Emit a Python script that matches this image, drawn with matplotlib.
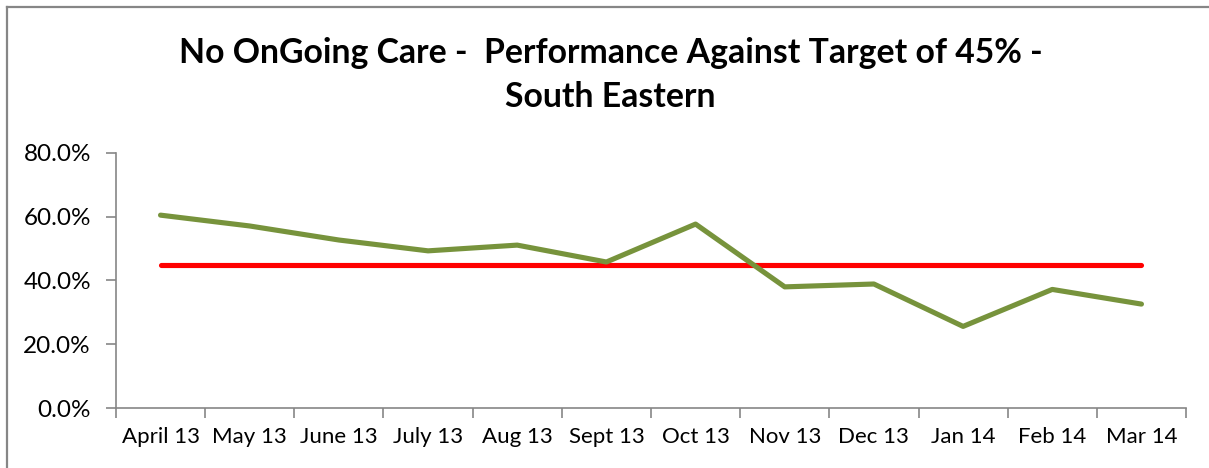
import matplotlib

matplotlib.use("Agg")
import matplotlib.pyplot as plt
from matplotlib.lines import Line2D

months = ["April 13", "May 13", "June 13", "July 13", "Aug 13", "Sept 13",
          "Oct 13", "Nov 13", "Dec 13", "Jan 14", "Feb 14", "Mar 14"]
performance = [60.5, 57.1, 52.7, 49.3, 51.1, 45.8, 57.7, 38.0, 38.9, 25.6, 37.2, 32.6]
target = [45.0] * len(months)
y_ticks = [0, 20, 40, 60, 80]

plt.rcParams["font.family"] = ["Lato", "DejaVu Sans"]

fig = plt.figure(figsize=(12.09, 4.68), dpi=100)
ax = fig.add_axes([0.0959, 0.1282, 0.8851, 0.5449])

x = list(range(len(months)))
ax.plot(x, performance, color="#77933C", linewidth=3.7, solid_capstyle="round", zorder=3)
ax.plot(x, target, color="#FF0000", linewidth=3.7, solid_capstyle="round", zorder=2)

ax.set_xlim(-0.5, len(months) - 0.5)
ax.set_ylim(0, 80)
ax.set_yticks(y_ticks)
ax.set_yticklabels([f"{v:.1f}%" for v in y_ticks])
ax.set_xticks(x)
ax.set_xticklabels(months)
ax.set_xticks([i - 0.5 for i in range(len(months) + 1)], minor=True)
ax.tick_params(axis="x", which="major", length=0, pad=14, labelsize=16)
ax.tick_params(axis="x", which="minor", length=7, width=1.2, color="#868686", direction="out")
ax.tick_params(axis="y", length=7, width=1.2, color="#868686", direction="out", labelsize=17.5, pad=11)

for side in ("top", "right"):
    ax.spines[side].set_visible(False)
for side in ("left", "bottom"):
    ax.spines[side].set_color("#868686")
    ax.spines[side].set_linewidth(1.2)

fig.text(0.505, 0.84, "No OnGoing Care -  Performance Against Target of 45% -\nSouth Eastern",
         ha="center", va="center", fontsize=24.3, fontweight="bold", linespacing=1.48)

# chart-area border: only left and top edges fall inside the picture
fig.add_artist(Line2D([0.006, 0.006], [0.0, 0.985], transform=fig.transFigure,
                      color="#868686", linewidth=1.6))
fig.add_artist(Line2D([0.006, 1.0], [0.985, 0.985], transform=fig.transFigure,
                      color="#868686", linewidth=1.6))

fig.savefig("out.png", dpi=100)
plt.close(fig)
